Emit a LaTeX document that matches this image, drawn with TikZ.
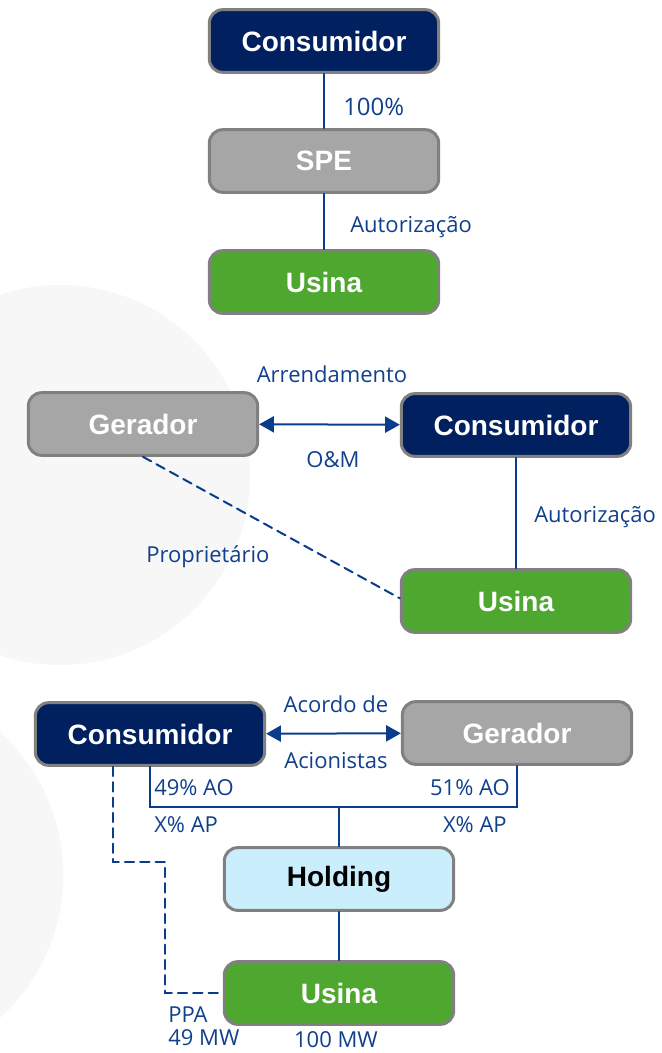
\documentclass[tikz,border=0pt]{standalone}
\usepackage{fontspec}
\usepackage{xcolor}
\usetikzlibrary{arrows.meta}
\setmainfont{Liberation Sans}
\newfontfamily\lblfont{Open Sans}
\definecolor{navy}{RGB}{0,32,96}
\definecolor{cinza}{RGB}{166,166,166}
\definecolor{verde}{RGB}{78,167,46}
\definecolor{celeste}{RGB}{202,238,251}
\definecolor{borda}{RGB}{128,128,128}
\definecolor{linkblue}{RGB}{10,60,140}
\definecolor{lblblue}{RGB}{16,64,140}
\definecolor{fundo}{RGB}{247,247,247}
\tikzset{
  box/.style={draw=borda,line width=2.25pt,rounded corners=10pt,minimum width=172pt,minimum height=47pt,text=white,font=\fontsize{21}{24}\selectfont\bfseries},
  link/.style={draw=linkblue,line width=1.5pt},
  dashlink/.style={link,dash pattern=on 7pt off 4.5pt},
  twoway/.style={link,{Triangle[length=11pt,width=12pt]}-{Triangle[length=11pt,width=12pt]}},
  lbl/.style={text=lblblue,inner sep=0pt,font=\lblfont\fontsize{16.5}{19}\selectfont}
}
\begin{document}
\begin{tikzpicture}[line cap=round,x=0.75pt,y=-0.75pt]
\useasboundingbox (0,0) rectangle (661,1053);
\begin{scope}
\clip (0,0) rectangle (661,1053);
\fill[fundo] (60,475) circle[radius=142.5pt];
\fill[fundo] (-130,875) circle[radius=145pt];
\end{scope}
\node[box,fill=navy] (cons1) at (324,41) {Consumidor};
\node[box,fill=cinza] (spe) at (324,161) {SPE};
\node[box,fill=verde] (usina1) at (324,282) {Usina};
\draw[link] (cons1) -- (spe);
\draw[link] (spe) -- (usina1);
\node[lbl,anchor=base west,font=\lblfont\fontsize{18}{21}\selectfont] (pct) at (343,115) {100\%};
\node[lbl,anchor=base west] (aut1) at (350,232) {Autorização};
\node[box,fill=cinza] (ger2) at (143,424) {Gerador};
\node[box,fill=navy] (cons2) at (516,425) {Consumidor};
\node[box,fill=verde] (usina2) at (516,601) {Usina};
\draw[twoway] (ger2) -- (cons2);
\draw[link] (cons2) -- (usina2);
\draw[dashlink] (ger2.south) -- ([yshift=2pt]usina2.west);
\node[lbl,anchor=base] (arr) at (332,382) {Arrendamento};
\node[lbl,anchor=base] (om) at (333,467) {O\&M};
\node[lbl,anchor=base west] (aut2) at (534,522) {Autorização};
\node[lbl,anchor=base west] (prop) at (146,562) {Proprietário};
\node[box,fill=navy] (cons3) at (150,734) {Consumidor};
\node[box,fill=cinza] (ger3) at (517,733) {Gerador};
\node[box,fill=celeste,text=black] (hold) at (339,879) {Holding};
\node[box,fill=verde] (usina3) at (339,993) {Usina};
\coordinate (junc) at (339,807);
\draw[twoway] (cons3) -- (ger3);
\draw[link] (cons3.south) |- (junc) -| (ger3.south);
\draw[link] (junc) -- (hold);
\draw[link] (hold) -- (usina3);
\draw[dashlink] ([xshift=-28pt]cons3.south) |- (165,862) |- (usina3.west);
\node[lbl,anchor=base] (acordo) at (336,712) {Acordo de};
\node[lbl,anchor=base] (acion) at (336,768) {Acionistas};
\node[lbl,anchor=base west] (ao49) at (154,795) {49\% AO};
\node[lbl,anchor=base east] (ao51) at (510,795) {51\% AO};
\node[lbl,anchor=base west] (apl) at (154,832) {X\% AP};
\node[lbl,anchor=base east] (apr) at (507,832) {X\% AP};
\node[lbl,anchor=base west] (ppa) at (168,1022) {PPA};
\node[lbl,anchor=base west] (mw49) at (168,1045) {49 MW};
\node[lbl,anchor=base] (mw100) at (336,1047) {100 MW};
\end{tikzpicture}
\end{document}
